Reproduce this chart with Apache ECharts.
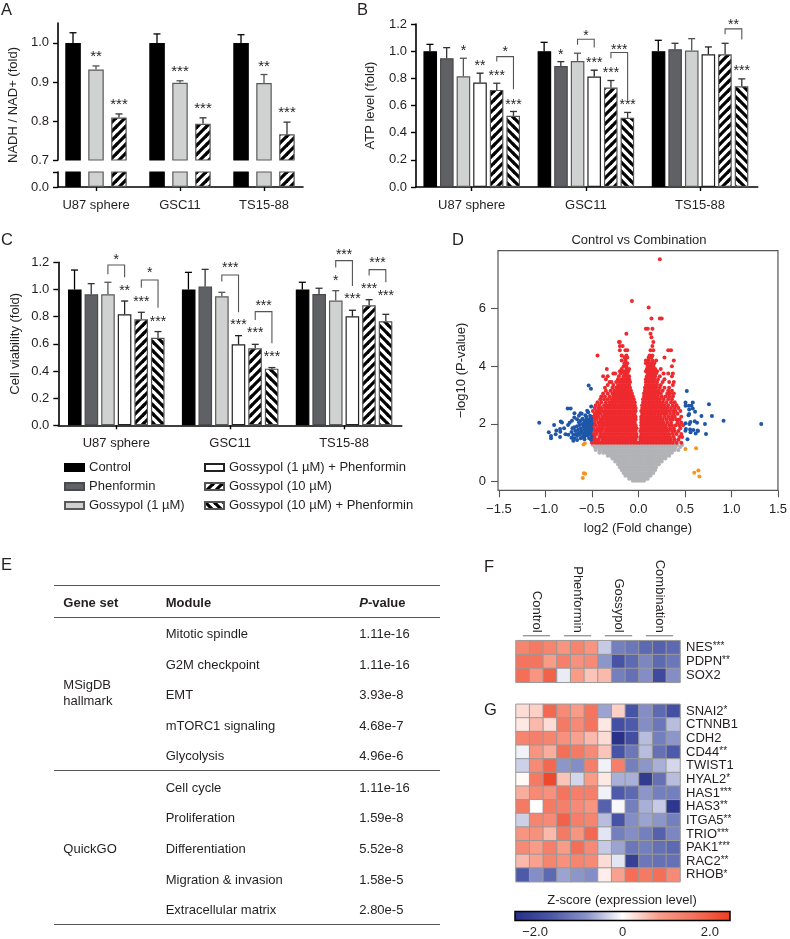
<!DOCTYPE html>
<html><head><meta charset="utf-8">
<style>html,body{margin:0;padding:0;background:#fff}#c{width:790px;height:939px}</style>
<script src="https://cdn.jsdelivr.net/npm/echarts@6/dist/echarts.min.js"></script>
</head><body><div id="c"></div>
<script>
const cellLines=['U87 sphere','GSC11','TS15-88'];
const treatments=['Control','Phenformin','Gossypol (1 µM)','Gossypol (1 µM) + Phenformin','Gossypol (10 µM)','Gossypol (10 µM) + Phenformin'];
const aTreatments=['Control','Gossypol (1 µM)','Gossypol (10 µM)'];
// panel A [per treatment, per cell line]
const aMean=[[1,1,1],[.932,.898,.897],[.809,.793,.766]];
const aTop=[[1.026,1.023,1.021],[.941,.903,.919],[.818,.808,.797]];
const aStars=[[0,1,.971,'**'],[0,2,.848,'***'],[1,1,.932,'***'],[1,2,.838,'***'],[2,1,.946,'**'],[2,2,.826,'***']];
// panel B
const bMean=[[1,1,1],[.948,.891,1.014],[.815,.928,1.004],[.769,.813,.977],[.715,.732,.977],[.524,.509,.742]];
const bTop=[[1.05,1.065,1.08],[1.026,.923,1.058],[.948,.985,1.092],[.838,.86,1.031],[.764,.784,1.058],[.556,.549,.796]];
const bStars=[[0,2,1.017,'*'],[0,3,.907,'**'],[0,4,.833,'***'],[0,5,.622,'***'],[0,4.5,1.01,'*'],[1,1,.99,'*'],[1,3,.931,'***'],[1,4,.855,'***'],[1,5,.622,'***'],[1,2.5,1.132,'*'],[1,4.5,1.027,'***'],[2,4.5,1.21,'**'],[2,5,.868,'***']];
const bBrackets=[[0,4,5,.96,.924,.72],[1,2,3,1.088,1.047,1.027],[1,4,5,.99,.948,.647],[2,4,5,1.164,1.125,1.085]];
// panel C
const cMean=[[1,1,1],[.964,1.021,.967],[.964,.95,.918],[.817,.596,.802],[.78,.567,.883],[.645,.417,.766]];
const cTop=[[1.143,1.126,1.053],[1.043,1.148,1.009],[1.053,.979,.991],[.915,.66,.847],[.832,.596,.925],[.69,.425,.817]];
const cStars=[[0,2.5,1.237,'*'],[0,3,1.009,'**'],[0,4,.925,'***'],[0,5,.78,'***'],[0,4.5,1.141,'*'],[1,2.5,1.175,'***'],[1,3,.758,'***'],[1,4,.694,'***'],[1,4.5,.898,'***'],[1,5,.518,'***'],[2,2.5,1.274,'***'],[2,2,1.082,'*'],[2,3,.947,'***'],[2,4,1.023,'***'],[2,4.5,1.21,'***'],[2,5,.972,'***']];
const cBrackets=[[0,2,3,1.18,1.112,1.09],[0,4,5,1.07,1.013,.866],[1,2,3,1.107,1.058,.832],[1,4,5,.837,.775,.604],[2,2,3,1.212,1.161,1.026],[2,4,5,1.146,1.102,1.053]];
// panel D: rows are [-log10 P, log2FC x100 ...]
const greyRows=[
[.03,-6,-3,0,3,6],[.1,-10,-7,-4,-1,2,5,8,10],[.2,-14,-11,-8,-5,-2,1,4,7,10,13],
[.3,-16,-13,-10,-7,-4,-1,2,5,8,11,14,16],[.4,-18,-15,-12,-9,-6,-3,0,3,6,9,12,15,18],
[.5,-20,-17,-14,-11,-8,-5,-2,1,4,7,10,13,16,19],[.6,-22,-19,-16,-13,-10,-7,-4,-1,2,5,8,11,14,17,20,22],
[.7,-25,-22,-19,-16,-13,-10,-7,-4,-1,2,5,8,11,14,17,20,23,25],
[.8,-28,-25,-22,-19,-16,-13,-10,-7,-4,-1,2,5,8,11,14,17,20,23,26,29],
[.9,-33,-30,-27,-24,-21,-18,-15,-12,-9,-6,-3,0,3,6,9,12,15,18,21,24,27,30,33],
[1,-42,-38,-35,-32,-29,-26,-23,-20,-17,-14,-11,-8,-5,-2,1,4,7,10,13,16,19,22,25,28,31,34,36],
[1.1,-46,-42,-39,-36,-33,-30,-27,-24,-21,-18,-15,-12,-9,-6,-3,0,3,6,9,12,15,18,21,24,27,30,33,36,39,43],
[1.2,-47,-44,-41,-38,-35,-32,-29,-26,-23,-20,-17,-14,-11,-8,-5,-2,1,4,7,10,13,16,19,22,25,28,31,34,37,40,45],
[1.27,-49,-45,-42,-39,-36,-33,-30,-27,-24,-21,-18,-15,-12,-9,-6,-3,0,3,6,9,12,15,18,21,24,27,30,33,36,39,42,47]];
const redRows=[
[1.35,-50,-47,-44,-41,-38,-35,-32,-29,-26,-23,-20,-17,-14,-11,-8,-5,-2,1,4,7,10,13,16,19,22,25,28,31,34,37,41,46],
[1.45,-49,-46,-43,-39,-36,-33,-30,-27,-24,-21,-18,-15,-12,-9,-6,-3,2,5,8,11,14,17,20,23,26,29,32,35,39,43],
[1.55,-50,-47,-42,-40,-37,-34,-31,-28,-25,-22,-19,-16,-13,-10,-7,-4,-2,2,4,7,10,13,16,19,22,25,28,31,34,38,44,47],
[1.65,-48,-45,-41,-38,-35,-32,-29,-26,-23,-20,-17,-14,-11,-8,-5,-2,3,6,9,12,15,18,21,24,27,30,33,37,41,46],
[1.75,-50,-46,-43,-40,-36,-33,-30,-27,-24,-21,-18,-15,-12,-9,-6,-3,2,5,8,11,14,17,20,23,26,29,32,36,39,43],
[1.85,-48,-44,-41,-38,-34,-31,-28,-25,-22,-19,-16,-13,-10,-7,-4,-2,3,6,9,12,15,18,21,24,27,30,34,38,45],
[1.95,-49,-46,-42,-39,-36,-33,-30,-27,-24,-21,-18,-15,-12,-9,-6,-3,3,5,8,11,14,17,20,23,26,29,33,36,40,44,48],
[2.05,-50,-47,-43,-40,-37,-34,-31,-28,-25,-22,-19,-16,-13,-10,-7,-4,3,6,9,12,15,18,21,24,27,31,35,42,46],
[2.15,-48,-45,-41,-38,-35,-32,-29,-26,-23,-20,-17,-14,-11,-8,-5,-3,3,5,8,11,14,17,20,23,26,30,34,37,41,44],
[2.25,-49,-46,-43,-39,-36,-33,-30,-27,-24,-21,-18,-15,-12,-9,-6,-3,3,6,9,12,15,18,21,24,28,32,36,39,46],
[2.35,-47,-44,-41,-37,-34,-31,-28,-25,-22,-19,-16,-13,-10,-7,-4,4,6,9,12,15,18,21,24,27,30,34,38,42],
[2.45,-49,-45,-42,-39,-36,-33,-30,-27,-24,-21,-18,-15,-12,-9,-6,-3,3,6,9,12,15,18,21,24,27,30,33,37,40,45],
[2.55,-47,-43,-40,-36,-33,-30,-27,-24,-21,-18,-15,-12,-9,-6,-3,4,7,10,13,16,19,22,25,28,31,35,39,43],
[2.65,-46,-42,-37,-34,-31,-28,-25,-22,-19,-16,-13,-10,-7,-4,4,7,10,13,16,19,22,25,28,32,37,41],
[2.75,-44,-40,-35,-31,-28,-25,-22,-19,-16,-13,-10,-7,-4,5,8,11,14,17,20,23,26,30,35,39],
[2.85,-41,-37,-33,-29,-26,-23,-20,-17,-14,-11,-8,-5,5,8,11,14,17,20,23,27,32,36],
[2.95,-40,-36,-31,-27,-24,-21,-18,-15,-12,-9,-6,6,9,12,15,18,21,25,29,33,37],
[3.05,-38,-33,-28,-25,-22,-19,-16,-13,-10,-7,6,9,12,15,18,21,24,31,34,38],
[3.15,-35,-30,-26,-23,-20,-17,-14,-11,-8,7,10,13,16,19,22,26,32,36],
[3.25,-36,-28,-24,-21,-18,-15,-12,-9,7,10,13,16,19,23,28,33],
[3.35,-33,-27,-22,-19,-16,-13,-10,8,11,14,17,20,24,37],
[3.45,-31,-29,-24,-20,-17,-14,-11,-9,8,11,14,17,20,26,33,38],
[3.55,-35,-22,-18,-15,-12,-10,8,11,14,17,21,28],
[3.65,-38,-33,-21,-16,-13,-10,9,12,15,18,23,36],
[3.75,-27,-25,-19,-15,-12,10,13,16,19,27,32,37],
[3.82,-20,-17,-14,-11,8,11,14,17,20],
[3.9,-34,-18,-13,-10,9,12,15,18,24],
[4.0,-16,-13,10,13,16,36],[4.1,-15,-12,8,11,14,17],[4.2,-18,-14,8,11,15,19,38],[4.3,-15,-12,11,14,28],
[4.37,-44,-18,-13,12,15],[4.55,-20,-14,-12,13,16,32,35],[4.7,-20,-17,15],[4.84,-21,-20,16],[5.0,14],[5.12,-13,13],
[5.3,8,10,15],[5.65,14,23,25],[6.03,11],[6.26,-7],[7.7,23]];
const blueX=[-1.067,-.535,-.511,-.761,-.729,-.508,-.907,-.964,-.94,-.94,-.89,-.843,-.836,-.822,-.883,-.843,-.8,-.84,-.785,-.753,-.757,-.74,-.715,-.688,-.623,-.551,-.71,-.69,-.66,-.63,-.6,-.57,-.54,-.51,-.72,-.68,-.65,-.62,-.59,-.56,-.53,-.505,-.7,-.67,-.64,-.61,-.58,-.55,-.52,-.72,-.69,-.66,-.63,-.6,-.57,-.54,-.51,-.7,-.66,-.62,-.58,-.55,-.52,-.69,-.64,-.6,-.56,-.52,-.61,-.57,-.54,-.51,-.58,-.53,
-.56,-.54,-.52,-.505,-.58,-.56,-.53,-.51,-.57,-.55,-.525,-.505,-.59,-.555,-.535,-.515,-.6,-.575,-.545,-.52,-.505,-.64,-.62,-.66,
.52,.758,.506,.584,.506,.541,.57,.545,.584,.609,.545,.538,.677,.79,.915,1.32,.506,.558,.548,.605,.63,.715,.51,.505,.555,.56,.59,.64,.615,.635,.726,.527];
const blueY=[2.04,3.33,3.22,2.53,2.53,2.6,1.96,1.71,1.58,1.5,1.64,1.55,2.08,2.05,1.77,1.82,1.85,1.73,1.64,1.62,1.96,2.04,2.11,2.37,2.37,2.46,1.85,1.88,1.92,1.96,2,2.04,2.08,2.12,1.72,1.76,1.8,1.84,1.9,1.94,1.98,2.02,1.62,1.65,1.7,1.75,1.8,1.85,1.88,1.52,1.5,1.58,1.62,1.68,1.72,1.78,1.82,1.42,1.44,1.5,1.56,1.6,1.65,2.22,2.28,2.18,2.24,2.28,2.35,2.3,2.4,1.45,1.47,1.5,
1.92,1.96,1.92,1.98,2.1,2.14,2.16,2.2,1.66,1.7,1.74,1.76,1.98,2.02,1.84,1.86,1.55,1.6,1.62,1.68,1.56,2.06,2.12,2.16,
3.14,2.68,2.74,2.74,2.63,2.63,2.63,2.5,2.53,2.42,2.34,2.3,2.27,2.27,2.11,2,2.02,2.07,2,2.09,2.04,2,1.82,1.76,1.81,1.71,1.79,1.75,1.67,1.77,1.65,1.47];
const orangeX=[-.59,-.576,-.598,-.587,-.573,.505,.62,.6,.644,.655];
const orangeY=[1.29,1.33,.13,.29,.27,1.13,1.16,.31,.39,.18];
// panel E
const tableHeader=['Gene set','Module','P-value'];
const moduleNames=['Mitotic spindle','G2M checkpoint','EMT','mTORC1 signaling','Glycolysis','Cell cycle','Proliferation','Differentiation','Migration & invasion','Extracellular matrix'];
const modulePvalues=['1.11e-16','1.11e-16','3.93e-8','4.68e-7','4.96e-6','1.11e-16','1.59e-8','5.52e-8','1.58e-5','2.80e-5'];
const geneSets=['MSigDB\nhallmark','QuickGO'];
// panels F and G
const sampleGroups=['','Control','','','Phenformin','','','Gossypol','','','Combination',''];
const fGenes=['NES','PDPN','SOX2'];const fMarks=['***','**',''];
const fZ=[[1.3,1.5,1.3,1,1.3,1,-.4,-1.1,-1.2,-1.4,-1.5,-1.4],[1.6,1.6,.9,1.4,1.1,1.2,-.8,-1.7,-1.4,-1,-1.4,-1.2],[1.7,1,1.9,-.15,.9,.5,.6,-1.1,-1.3,-.9,-1.9,-.9]];
const gGenes=['SNAI2','CTNNB1','CDH2','CD44','TWIST1','HYAL2','HAS1','HAS3','ITGA5','TRIO','PAK1','RAC2','RHOB'];
const gMarks=['*','','','**','','*','***','**','**','***','***','**','*'];
const gZ=[[.3,.4,1.8,1.2,.9,1.6,-.7,.4,-1.7,-.9,-1.4,-1.8],[.2,.6,.3,1.5,1.2,1.6,.2,-1.8,-1.6,-.9,-1.2,-.5],[1.3,1.4,1.3,1.1,.8,.6,.3,-2.4,-1.8,-.5,-1.1,-.8],[-.1,1,.7,1.7,1.5,1.2,.5,-1.7,-1.2,-.5,-1.3,-1.6],[-.35,1.2,1.8,-.8,-.9,1.4,-.1,1.4,-1.1,-.8,-.6,-.3],[.05,1.5,2.3,.5,-.3,.9,.2,-.6,-.6,-2.2,-1.3,-.5],[.7,1.2,1.1,1.6,1.4,1.4,-.1,-1.6,-1.4,-.8,-1.1,-1.1],[1.5,0,1.5,1.4,1.2,1,-1.5,-.05,-1.1,-.6,-.4,-2.3],[-.35,1.3,1.2,1.9,1.4,1.3,-.5,-1.7,-.9,-.7,-.8,-1.1],[1,1.1,.6,1.5,1,1.8,-.2,-1.1,-.9,-1.1,-1.5,-1],[1.2,.9,1.4,.9,1.7,1.2,-.4,-.7,-1.2,-1.1,-1.3,-1.4],[.6,.8,1.3,1.1,1.3,1.2,.3,-.2,-2.1,-1.2,-1.3,-1.3],[-1.6,-.9,-1.4,-.7,-.8,-.9,.15,.8,1.7,1.5,1.7,1.2]];
const zTicks=[-2,0,2];

const FONT='"Liberation Sans"',INK='#231f20';
function stripes(dir){
  const s=9,c=document.createElement('canvas');c.width=c.height=s;
  const g=c.getContext('2d');g.fillStyle='#fff';g.fillRect(0,0,s,s);g.strokeStyle='#000';g.lineWidth=3.2;
  if(dir<0){g.translate(s,0);g.scale(-1,1);}
  [[-1,1,1,-1],[0,s,s,0],[s-1,s+1,s+1,s-1]].forEach(l=>{g.beginPath();g.moveTo(l[0],l[1]);g.lineTo(l[2],l[3]);g.stroke();});
  return {image:c,repeat:'repeat'};
}
const fill={'Control':'#000','Phenformin':'#606165','Gossypol (1 µM)':'#d0d2d2','Gossypol (1 µM) + Phenformin':'#fff','Gossypol (10 µM)':stripes(1),'Gossypol (10 µM) + Phenformin':stripes(-1)};
const edge={'Control':'#000','Phenformin':'#4a4a4d','Gossypol (1 µM)':'#5a5a5a','Gossypol (1 µM) + Phenformin':'#222','Gossypol (10 µM)':'#555','Gossypol (10 µM) + Phenformin':'#555'};
const errCol={'Control':'#000','Phenformin':'#333','Gossypol (1 µM)':'#555','Gossypol (1 µM) + Phenformin':'#222','Gossypol (10 µM)':'#333','Gossypol (10 µM) + Phenformin':'#333'};

const grid=[],xAxis=[],yAxis=[],series=[];
function addGrid(l,t,r,b,extra){grid.push(Object.assign({left:l,top:t,width:r-l,height:b-t,containLabel:false},extra||{}));return grid.length-1;}
function barX(min,max,show){return {type:'value',min,max,show:show!==false,axisLine:{onZero:false,lineStyle:{color:'#000',width:1.6}},
  splitLine:{show:false},axisTick:{length:4,lineStyle:{color:'#000',width:1.4},customValues:[0,1,2]},
  axisLabel:{customValues:[0,1,2],margin:11.5,fontSize:13,color:INK,fontFamily:FONT,formatter:v=>cellLines[Math.round(v)]}};}
function barY(min,max,vals,labels,name,gap){return {type:'value',min,max,axisLine:{show:true,onZero:false,lineStyle:{color:'#000',width:1.6}},splitLine:{show:false},
  axisTick:{show:true,length:5,lineStyle:{color:'#000',width:1.4},customValues:vals},
  axisLabel:{customValues:labels,margin:9,fontSize:13,color:INK,fontFamily:FONT,formatter:v=>v.toFixed(1)},
  name:name||'',nameLocation:'middle',nameGap:gap||30,nameTextStyle:{fontSize:13,color:INK,fontFamily:FONT}};}
function addBars(gi,names,mean,width,gap){
  names.forEach((n,k)=>series.push({type:'bar',name:n,xAxisIndex:gi,yAxisIndex:gi,barWidth:width,barGap:gap,silent:true,animation:false,clip:true,
    itemStyle:{color:fill[n],borderColor:edge[n],borderWidth:1.2},
    data:mean[k].map((v,i)=>[i,v])}));
}
function addErrors(gi,names,mean,top,pitch){
  const n=names.length,rows=[];
  names.forEach((nm,k)=>mean[k].forEach((v,i)=>rows.push([i,v,top[k][i],k])));
  series.push({type:'custom',xAxisIndex:gi,yAxisIndex:gi,silent:true,animation:false,z:3,data:rows,
    renderItem:(p,api)=>{
      const g=api.value(0),k=api.value(3),a=api.coord([g,api.value(1)]),b=api.coord([g,api.value(2)]);
      const x=a[0]+(k-(n-1)/2)*pitch,c=errCol[names[k]];
      return {type:'group',children:[
        {type:'line',shape:{x1:x,y1:a[1],x2:x,y2:b[1]},style:{stroke:c,lineWidth:1.3}},
        {type:'line',shape:{x1:x-3.5,y1:b[1],x2:x+3.5,y2:b[1]},style:{stroke:c,lineWidth:1.3}}]};
    }});
}
function addStars(gi,list,n,pitch,size){
  series.push({type:'custom',xAxisIndex:gi,yAxisIndex:gi,silent:true,animation:false,z:5,data:list.map(s=>[s[0],s[2],s[1]]),
    renderItem:(p,api)=>{
      const a=api.coord([api.value(0),api.value(1)]);
      return {type:'text',style:{text:list[p.dataIndex][3],x:a[0]+(api.value(2)-(n-1)/2)*pitch,y:a[1]+2.5,align:'center',verticalAlign:'middle',fill:INK,font:size+'px '+FONT}};
    }});
}
function addBrackets(gi,list,n,pitch){
  series.push({type:'custom',xAxisIndex:gi,yAxisIndex:gi,silent:true,animation:false,z:4,data:list,
    renderItem:(p,api)=>{
      const g=api.value(0),cx=api.coord([g,0])[0],o=k=>cx+(k-(n-1)/2)*pitch,y=v=>api.coord([g,v])[1];
      const x1=o(api.value(1)),x2=o(api.value(2));
      return {type:'polyline',shape:{points:[[x1,y(api.value(4))],[x1,y(api.value(3))],[x2,y(api.value(3))],[x2,y(api.value(5))]]},style:{fill:'none',stroke:'#555',lineWidth:1.1}};
    }});
}
// Panel A (broken axis)
const aU=addGrid(58,23,303,160);
xAxis.push(barX(-.4524,2.4643,false));
yAxis.push(barY(.7,1.051,[.7,.8,.9,1],[.7,.8,.9,1]));
addBars(aU,aTreatments,aMean,15.5,'48%');addErrors(aU,aTreatments,aMean,aTop,23);addStars(aU,aStars,3,23,15);
const aL=addGrid(58,172,303,187);
xAxis.push(barX(-.4524,2.4643));
yAxis.push(barY(0,.04,[0,.04],[0]));
addBars(aL,aTreatments,aMean,15.5,'48%');
// Panel B
const bG=addGrid(416,24,757.7,187);
xAxis.push(barX(-.488,2.505));
yAxis.push(barY(0,1.2,[0,.2,.4,.6,.8,1,1.2],[0,.2,.4,.6,.8,1,1.2],'ATP level (fold)',39));
addBars(bG,treatments,bMean,13.6,'22%');addErrors(bG,treatments,bMean,bTop,16.7);addBrackets(bG,bBrackets,6,16.7);addStars(bG,bStars,6,16.7,14);
// Panel C
const cG=addGrid(58.3,262.3,401.7,425.3);
xAxis.push(barX(-.509,2.506));
yAxis.push(barY(0,1.2,[0,.2,.4,.6,.8,1,1.2],[0,.2,.4,.6,.8,1,1.2],'Cell viability (fold)',36));
addBars(cG,treatments,cMean,13.6,'22%');addErrors(cG,treatments,cMean,cTop,16.7);addBrackets(cG,cBrackets,6,16.7);addStars(cG,cStars,6,16.7,14);
// Panel D
const dG=addGrid(498,250.7,780,490.3,{show:true,borderColor:'#555',borderWidth:1.2,backgroundColor:'#fff'});
const xt=[-1.5,-1,-.5,0,.5,1,1.5],yt=[0,2,4,6];
xAxis.push({type:'value',min:-1.51,max:1.5,axisLine:{show:false,onZero:false},splitLine:{show:false},
  axisTick:{show:true,length:7,lineStyle:{color:'#555',width:1.1},customValues:xt},
  axisLabel:{customValues:xt,margin:13,fontSize:13,color:INK,fontFamily:FONT,formatter:v=>(v<0?'−':'')+Math.abs(v).toFixed(1)},
  name:'log2 (Fold change)',nameLocation:'middle',nameGap:32,nameTextStyle:{fontSize:13,color:INK,fontFamily:FONT}});
yAxis.push({type:'value',min:-.3,max:8,axisLine:{show:false,onZero:false},splitLine:{show:false},
  axisTick:{show:true,length:7,lineStyle:{color:'#555',width:1.1},customValues:yt},
  axisLabel:{customValues:yt,margin:12,fontSize:13,color:INK,fontFamily:FONT,formatter:v=>String(v)},
  name:'−log10 (P-value)',nameLocation:'middle',nameGap:30,nameTextStyle:{fontSize:13,color:INK,fontFamily:FONT}});
function expand(rows){const o=[];rows.forEach(r=>{for(let i=1;i<r.length;i++)o.push([r[i]/100,r[0]]);});return o;}
function scat(data,color,z){series.push({type:'scatter',xAxisIndex:dG,yAxisIndex:dG,data,symbol:'circle',symbolSize:4,silent:true,animation:false,large:false,z,itemStyle:{color,opacity:1}});}
scat(expand(greyRows),'#b2b3b6',2);
scat(expand(redRows),'#ee2a2e',3);
scat(blueX.map((x,i)=>[x,blueY[i]]),'#1e56a8',4);
scat(orangeX.map((x,i)=>[x,orangeY[i]]),'#f7941d',4);
// Panels F, G
const hmIdx=[];
function heat(top,bottom,genes,marks,z,withGroups){
  const gi=addGrid(516,top,680,bottom);
  xAxis.push({type:'category',position:'top',data:sampleGroups,axisLine:{show:false},axisTick:{show:false},
    axisLabel:{show:withGroups,interval:0,rotate:90,margin:8,fontSize:13,color:INK,fontFamily:FONT,verticalAlign:'middle'},splitLine:{show:false}});
  yAxis.push({type:'category',position:'right',inverse:true,data:genes.map((g,i)=>g+'|'+marks[i]),axisLine:{show:false},axisTick:{show:false},splitLine:{show:false},
    axisLabel:{interval:0,margin:6,color:INK,fontFamily:FONT,fontSize:13,formatter:v=>{const p=v.split('|');return '{n|'+p[0]+'}'+(p[1]?'{s|'+p[1]+'}':'');},
      rich:{n:{fontSize:13,color:INK,fontFamily:FONT},s:{fontSize:10,color:INK,fontFamily:FONT,padding:[0,0,2,0]}}}});
  const d=[];z.forEach((r,j)=>r.forEach((v,i)=>d.push([i,j,v])));
  hmIdx.push(series.length);
  series.push({type:'heatmap',xAxisIndex:gi,yAxisIndex:gi,data:d,silent:true,animation:false,itemStyle:{borderColor:'#999',borderWidth:1}});
  if(withGroups) series.push({type:'custom',xAxisIndex:gi,yAxisIndex:gi,silent:true,animation:false,data:[[0,2],[3,5],[6,8],[9,11]],
    renderItem:(p,api)=>{const a=api.coord([api.value(0),0]),b=api.coord([api.value(1),0]),h=api.size([1,1])[1];const y=a[1]-h/2-5;
      return {type:'line',shape:{x1:a[0],y1:y,x2:b[0],y2:y},style:{stroke:'#999',lineWidth:1.4}};}});
}
heat(640.7,682.3,fGenes,fMarks,fZ,true);
heat(704.3,881.7,gGenes,gMarks,gZ,false);
// colour scale
const zG=addGrid(515,911.5,730,921,{show:true,borderColor:'#000',borderWidth:1.5,z:10,backgroundColor:'transparent'});
xAxis.push({type:'value',min:-2.46,max:2.46,axisLine:{show:false,onZero:false},axisTick:{show:false},splitLine:{show:false},
  axisLabel:{customValues:zTicks,margin:5.5,fontSize:13,color:INK,fontFamily:FONT,formatter:v=>v===0?'0':(v<0?'−':'')+Math.abs(v).toFixed(1)}});
yAxis.push({type:'value',show:false,min:0,max:1,splitLine:{show:false}});
xAxis.forEach((a,i)=>{a.gridIndex=i;});yAxis.forEach((a,i)=>{a.gridIndex=i;});

// Panel E and letters as real text
const g=[];
function T(text,x,y,o){g.push(Object.assign({type:'text',x,y,silent:true,style:Object.assign({text,fill:INK,font:'13px '+FONT,verticalAlign:'middle',align:'left'},o||{})}));}
function L(y){g.push({type:'line',silent:true,shape:{x1:54,y1:y,x2:440,y2:y},style:{stroke:'#555',lineWidth:1}});}
[585.5,617.5,770.5,924.5].forEach(L);
T(tableHeader[0],63.3,603.5,{font:'bold 13px '+FONT});T(tableHeader[1],165.7,603.5,{font:'bold 13px '+FONT});
T('{i|P}{b|-value}',359.3,603.5,{rich:{i:{font:'italic bold 13px '+FONT,fill:INK},b:{font:'bold 13px '+FONT,fill:INK}}});
const rowY=[634.7,665,695.7,726,756.3,788.5,818.7,849.3,880,910.3];
moduleNames.forEach((m,i)=>{T(m,165.7,rowY[i]);T(modulePvalues[i],359.3,rowY[i]);});
T(geneSets[0],63.3,693,{lineHeight:16});T(geneSets[1],63.3,849.3);
[['A',1,10],['B',357,10],['C',1,240],['D',452,240],['E',1,565],['F',484,567],['G',484,710]].forEach(a=>T(a[0],a[1],a[2],{font:'16.5px '+FONT}));
g.push({type:'text',x:13,y:105,rotation:Math.PI/2,silent:true,style:{text:'NADH / NAD+ (fold)',fill:INK,font:'13px '+FONT,align:'center',verticalAlign:'middle'}});

const chart=echarts.init(document.getElementById('c'),null,{renderer:'canvas',width:790,height:939});
chart.setOption({
  animation:false,backgroundColor:'#fff',textStyle:{fontFamily:FONT,color:INK},
  title:[
    {text:'Control vs Combination',left:639,top:234,textAlign:'center',textStyle:{fontSize:13,fontWeight:'normal',color:INK,fontFamily:FONT},padding:0},
    {text:'Z-score (expression level)',left:622,top:894,textAlign:'center',textStyle:{fontSize:13,fontWeight:'normal',color:INK,fontFamily:FONT},padding:0}],
  legend:[
    {data:treatments.slice(0,3),left:64,top:461,orient:'vertical',icon:'rect',itemWidth:19,itemHeight:7,itemGap:6,selectedMode:false,padding:0,textStyle:{fontSize:13,color:INK,fontFamily:FONT}},
    {data:treatments.slice(3),left:204,top:461,orient:'vertical',icon:'rect',itemWidth:19,itemHeight:7,itemGap:6,selectedMode:false,padding:0,textStyle:{fontSize:13,color:INK,fontFamily:FONT}}],
  visualMap:{type:'continuous',min:-2.46,max:2.46,seriesIndex:hmIdx,orient:'horizontal',left:515,top:911.5,itemWidth:9.5,itemHeight:215,padding:0,calculable:false,text:null,hoverLink:false,
    inRange:{color:['#262f87','#4a57a8','#8a93c8','#ffffff','#f89f8c','#f4725c','#ee3f22']}},
  grid,xAxis,yAxis,series,graphic:{elements:g}
});
</script></body></html>
